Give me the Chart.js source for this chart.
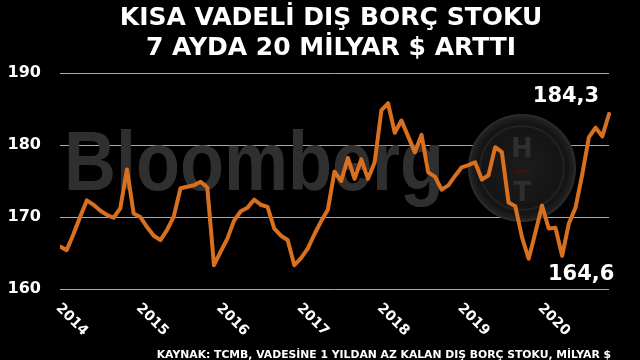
<!DOCTYPE html>
<html><head><meta charset="utf-8">
<script src="https://cdn.jsdelivr.net/npm/chart.js@4.4.1/dist/chart.umd.min.js"></script>
<style>html,body{margin:0;padding:0;background:#000;}#wrap{width:640px;height:360px;position:relative;}</style>
</head><body><div id="wrap"><canvas id="c" width="640" height="360"></canvas></div>
<script>
// ---- data ----
const titleLines = ['KISA VADELİ DIŞ BORÇ STOKU', '7 AYDA 20 MİLYAR $ ARTTI'];
const sourceText = 'KAYNAK: TCMB, VADESİNE 1 YILDAN AZ KALAN DIŞ BORÇ STOKU, MİLYAR $';
const yearLabels = ['2014','2015','2016','2017','2018','2019','2020'];
const yTicks = [160, 170, 180, 190];
const months = [
 '2014-01','2014-02','2014-03','2014-04','2014-05','2014-06','2014-07','2014-08','2014-09','2014-10','2014-11','2014-12',
 '2015-01','2015-02','2015-03','2015-04','2015-05','2015-06','2015-07','2015-08','2015-09','2015-10','2015-11','2015-12',
 '2016-01','2016-02','2016-03','2016-04','2016-05','2016-06','2016-07','2016-08','2016-09','2016-10','2016-11','2016-12',
 '2017-01','2017-02','2017-03','2017-04','2017-05','2017-06','2017-07','2017-08','2017-09','2017-10','2017-11','2017-12',
 '2018-01','2018-02','2018-03','2018-04','2018-05','2018-06','2018-07','2018-08','2018-09','2018-10','2018-11','2018-12',
 '2019-01','2019-02','2019-03','2019-04','2019-05','2019-06','2019-07','2019-08','2019-09','2019-10','2019-11','2019-12',
 '2020-01','2020-02','2020-03','2020-04','2020-05','2020-06','2020-07','2020-08','2020-09','2020-10','2020-11'
];
const debtStock = [
 165.9,165.4,167.6,170.0,172.3,171.7,170.9,170.3,169.9,171.2,176.6,170.5,
 170.0,168.6,167.4,166.8,168.2,170.1,174.0,174.2,174.4,174.9,174.1,163.3,
 165.2,167.0,169.5,170.8,171.3,172.4,171.7,171.4,168.4,167.4,166.8,163.3,
 164.3,165.6,167.6,169.4,171.0,176.3,175.0,178.2,175.3,178.0,175.3,177.6,
 184.8,185.8,181.7,183.4,181.2,179.0,181.4,176.2,175.6,173.8,174.4,175.7,
 176.9,177.2,177.6,175.2,175.8,179.7,179.0,172.0,171.5,167.2,164.2,167.8,
 171.6,168.4,168.5,164.6,169.1,171.3,175.9,181.1,182.4,181.2,184.3
];
const annotatedMonths = ['2020-11', '2020-04'];

const fmt = v => v.toFixed(1).replace('.', ',');

const decor = {
  id: 'decor',
  beforeDatasetsDraw(chart) {
    const ctx = chart.ctx;
    ctx.save();
    // Bloomberg watermark
    ctx.fillStyle = '#2f2f2f';
    ctx.font = 'bold 72px "Liberation Sans", Arial, sans-serif';
    ctx.textAlign = 'left';
    ctx.textBaseline = 'alphabetic';
    ctx.save();
    ctx.translate(64, 190);
    ctx.scale(1, 1.15);
    ctx.fillText('Bloomberg', 0, 0);
    ctx.restore();
    // HT watermark
    const cx = 522, cy = 168;
    const g = ctx.createRadialGradient(cx, cy, 10, cx, cy, 54);
    g.addColorStop(0, '#1a1a1a');
    g.addColorStop(0.8, '#141414');
    g.addColorStop(1, '#262626');
    ctx.beginPath();
    ctx.arc(cx, cy, 53, 0, Math.PI * 2);
    ctx.fillStyle = g;
    ctx.fill();
    ctx.lineWidth = 2;
    ctx.strokeStyle = '#2a2a2a';
    ctx.stroke();
    ctx.beginPath();
    ctx.arc(cx, cy, 42, 0, Math.PI * 2);
    ctx.lineWidth = 2;
    ctx.strokeStyle = '#222222';
    ctx.stroke();
    ctx.fillStyle = '#2f2f2f';
    ctx.font = 'bold 26px "DejaVu Sans", sans-serif';
    ctx.textAlign = 'center';
    ctx.textBaseline = 'middle';
    ctx.fillText('H', cx, 150);
    ctx.fillText('T', cx, 194);
    ctx.fillStyle = '#3a1414';
    ctx.fillRect(cx - 8, 170, 16, 3);
    ctx.restore();
  },
  afterDraw(chart) {
    const ctx = chart.ctx;
    const xs = chart.scales.x, ys = chart.scales.y;
    ctx.save();
    ctx.fillStyle = '#ffffff';
    // title
    ctx.font = 'bold 25px "DejaVu Sans", Verdana, sans-serif';
    ctx.textAlign = 'center';
    ctx.textBaseline = 'middle';
    ctx.fillText(titleLines[0], 331, 18);
    ctx.fillText(titleLines[1], 331, 48);
    // x year labels (rotated clockwise)
    ctx.font = 'bold 14px "DejaVu Sans", Verdana, sans-serif';
    ctx.textAlign = 'left';
    ctx.textBaseline = 'middle';
    yearLabels.forEach(y => {
      const px = xs.getPixelForValue(months.indexOf(y + '-01'));
      ctx.save();
      ctx.translate(px - 2, 306);
      ctx.rotate(Math.PI / 4);
      ctx.fillText(y, 0, 0);
      ctx.restore();
    });
    // annotations
    ctx.font = 'bold 21px "DejaVu Sans", Verdana, sans-serif';
    ctx.textAlign = 'center';
    const iHi = months.indexOf(annotatedMonths[0]);
    const iLo = months.indexOf(annotatedMonths[1]);
    ctx.fillText(fmt(debtStock[iHi]), xs.getPixelForValue(iHi) - 43, ys.getPixelForValue(debtStock[iHi]) - 17);
    ctx.fillText(fmt(debtStock[iLo]), xs.getPixelForValue(iLo) + 19, ys.getPixelForValue(debtStock[iLo]) + 19);
    // source
    ctx.font = 'bold 10.8px "DejaVu Sans", Verdana, sans-serif';
    ctx.textAlign = 'right';
    ctx.fillText(sourceText, 611, 355);
    ctx.restore();
  }
};

new Chart(document.getElementById('c'), {
  type: 'line',
  data: {
    labels: months,
    datasets: [{
      data: debtStock,
      borderColor: '#d8701f',
      borderWidth: 4,
      borderJoinStyle: 'round',
      borderCapStyle: 'round',
      pointRadius: 0,
      tension: 0,
      fill: false
    }]
  },
  options: {
    responsive: false,
    animation: false,
    events: [],
    layout: { padding: { top: 73, bottom: 71, left: 0, right: 31 } },
    plugins: { legend: { display: false }, title: { display: false }, tooltip: { enabled: false } },
    scales: {
      x: {
        display: false,
        offset: false,
        min: 0
      },
      y: {
        min: yTicks[0],
        max: yTicks[yTicks.length - 1],
        afterBuildTicks: s => { s.ticks = yTicks.map(v => ({ value: v })); },
        afterFit: s => { s.width = 60; },
        border: { display: false },
        grid: { color: '#a8a8a8', lineWidth: 1, drawTicks: false },
        ticks: {
          color: '#ffffff',
          padding: 19,
          font: { family: '"DejaVu Sans", Verdana, sans-serif', size: 16, weight: 'bold' }
        }
      }
    }
  },
  plugins: [decor]
});
</script>
</body></html>
